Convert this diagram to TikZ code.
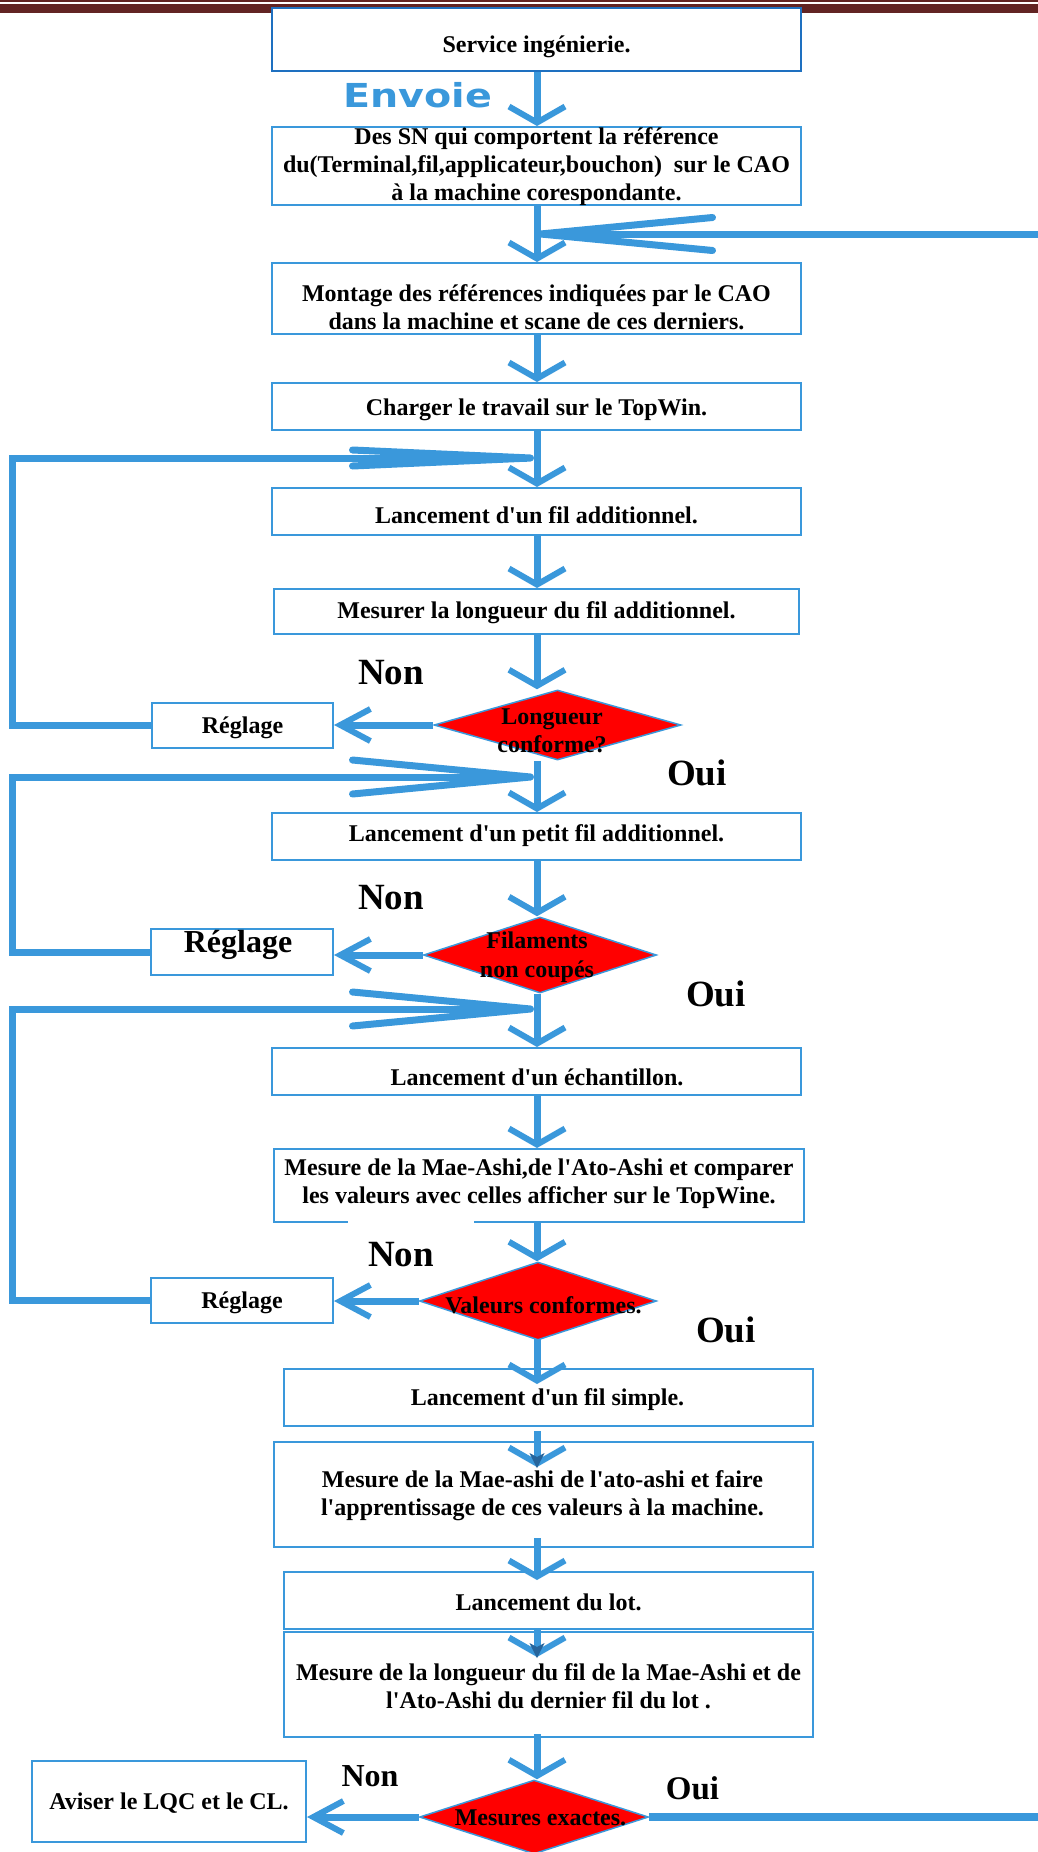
\documentclass[tikz,border=0pt]{standalone}
\usepackage{fontspec}
\newfontfamily\tnr{Liberation Serif}
\newfontfamily\dvs{DejaVu Sans}
\usetikzlibrary{arrows.meta,shapes.geometric}
\definecolor{fblue}{RGB}{58,152,219}
\definecolor{dblue}{RGB}{30,112,192}
\definecolor{maroonbar}{RGB}{98,36,35}
\definecolor{tipblue}{RGB}{38,100,155}
\begin{document}
\begin{tikzpicture}[x=1pt,y=-1pt,
  box/.style={rectangle, draw=fblue, line width=2pt, fill=white, inner sep=0pt},
  dia/.style={diamond, draw=fblue, line width=1.5pt, fill=red, inner sep=0pt},
  txt/.style={font=\tnr\bfseries\fontsize{24}{27.7}\selectfont, align=center, inner sep=0pt},
  bigtxt/.style={font=\tnr\bfseries\fontsize{37}{40}\selectfont, inner sep=0pt},
  flow/.style={draw=fblue, line width=7pt, -{Straight Barb[length=16pt,width=56pt,line width=6pt]}},
  side/.style={draw=fblue, line width=7pt, -{Straight Barb[length=30pt,width=32pt,line width=6pt]}},
  loopa/.style={draw=fblue, line width=7pt, line join=miter, -{Straight Barb[round,length=178pt,width=16pt,line width=7pt]}},
  loopb/.style={draw=fblue, line width=7pt, line join=miter, -{Straight Barb[round,length=178pt,width=34pt,line width=7pt]}},
]
\useasboundingbox (0,0) rectangle (1038,1852);
\fill[white] (0,0) rectangle (1038,1852);
% header bar
\fill[maroonbar] (0,0) rectangle (1038,2);
\fill[maroonbar] (0,4.3) rectangle (1038,12.7);

% axis of the main flow
\coordinate (ax) at (537,0);

% boxes
\node[box, draw=dblue, line width=2.5pt, minimum width=529pt, minimum height=63pt] (b1) at (536.5,39.5) {};
\node[box, minimum width=529pt, minimum height=78pt] (b2) at (536.5,166) {};
\node[box, minimum width=529pt, minimum height=71pt] (b3) at (536.5,298.5) {};
\node[box, minimum width=529pt, minimum height=47pt] (b4) at (536.5,406.5) {};
\node[box, minimum width=529pt, minimum height=47pt] (b5) at (536.5,511.5) {};
\node[box, minimum width=525pt, minimum height=45pt] (b6) at (536.5,611.5) {};
\node[dia, minimum width=247pt, minimum height=70pt] (d1) at (557.5,725) {};
\node[box, minimum width=181pt, minimum height=45pt] (r1) at (242.5,725.5) {};
\node[box, minimum width=529pt, minimum height=47pt] (b7) at (536.5,836.5) {};
\node[dia, minimum width=233pt, minimum height=76pt] (d2) at (540,955) {};
\node[box, minimum width=182pt, minimum height=46pt] (r2) at (242,952) {};
\node[box, minimum width=529pt, minimum height=47pt] (b8) at (536.5,1071.5) {};
\node[box, minimum width=530pt, minimum height=73pt] (b9) at (539,1185.5) {};
\fill[white] (348,1220) rectangle (474,1225);
\node[dia, minimum width=237pt, minimum height=78pt] (d3) at (538,1301) {};
\node[box, minimum width=182pt, minimum height=45pt] (r3) at (242,1300.5) {};
\node[box, minimum width=529pt, minimum height=57pt] (b10) at (548.5,1397.5) {};
\node[box, minimum width=539pt, minimum height=105pt] (b11) at (543.5,1494.5) {};
\node[box, minimum width=529pt, minimum height=57pt] (b12) at (548.5,1600.5) {};
\node[box, minimum width=529pt, minimum height=105pt] (b13) at (548.5,1684.5) {};
\node[dia, minimum width=229pt, minimum height=74pt] (d4) at (534,1817) {};
\node[box, minimum width=274pt, minimum height=81pt] (b14) at (169,1801.5) {};

% merge points and free ends
\coordinate (m0) at (537,234);
\coordinate (m1) at (534,458);
\coordinate (m2) at (534,777);
\coordinate (m3) at (534,1009);
\coordinate (k1) at (12,458);
\coordinate (k2) at (12,777);
\coordinate (k3) at (12,1009);
\coordinate (e1) at (1038,234);
\coordinate (e2) at (1038,1817);

% connectors
\draw[flow] (ax |- b1.south) -- (ax |- b2.north);
\draw[flow] (ax |- b2.south) -- (ax |- b3.north);
\draw[draw=fblue, line width=7pt, -{Straight Barb[round,length=172pt,width=33pt,line width=7pt]}] (e1) -- (m0);
\draw[flow] (ax |- b3.south) -- (ax |- b4.north);
\draw[flow] (ax |- b4.south) -- (ax |- b5.north);
\draw[flow] (ax |- b5.south) -- (ax |- b6.north);
\draw[flow] (ax |- b6.south) -- (ax |- d1.north);
\draw[side] (d1.west) -- (d1.west -| r1.east);
\draw[loopa] (r1.west) -| (k1) -- (m1);
\draw[flow] (ax |- d1.south) -- (ax |- b7.north);
\draw[loopb] (r2.west) -| (k2) -- (m2);
\draw[flow] (ax |- b7.south) -- (ax |- d2.north);
\draw[side] (d2.west) -- (d2.west -| r2.east);
\draw[flow] (ax |- d2.south) -- (ax |- b8.north);
\draw[loopb] (r3.west) -| (k3) -- (m3);
\draw[flow] (ax |- b8.south) -- (ax |- b9.north);
\draw[flow] (ax |- b9.south) -- (ax |- d3.north);
\draw[side] (d3.west) -- (d3.west -| r3.east);
\draw[flow, shorten <=-2pt, shorten >=-16pt] (ax |- d3.south) -- (ax |- b10.north);
\draw[flow, shorten <=4pt, shorten >=-26pt] (ax |- b10.south) -- (ax |- b11.north);
\draw[flow, shorten <=-10pt, shorten >=-9pt] (ax |- b11.south) -- (ax |- b12.north);
\draw[flow, shorten <=-2pt, shorten >=-26pt] (ax |- b12.south) -- (ax |- b13.north);
\draw[flow, shorten <=-4pt] (ax |- b13.south) -- (ax |- d4.north);
\draw[side] (d4.west) -- (d4.west -| b14.east);
\draw[draw=fblue, line width=8pt] (d4.east) -- (e2);

% small dark tips
\coordinate (p11) at (537,1468);
\coordinate (p13) at (537,1658);
\fill[tipblue] (p11) -- ++(-7.5,-15) -- ++(7.5,4) -- ++(7.5,-4) -- cycle;
\fill[tipblue] (p13) -- ++(-7.5,-15) -- ++(7.5,4) -- ++(7.5,-4) -- cycle;

% texts
\node[font=\dvs\bfseries\fontsize{33}{36}\selectfont, text=fblue, inner sep=0pt] (env) at (418,95) {\scalebox{1.2}[1]{Envoie}};
\node[txt] (t1) at (536.5,47) {Service ingénierie.};
\node[txt] (t2) at (536.5,166.5) {Des SN qui comportent la référence\\du(Terminal,fil,applicateur,bouchon)~ sur le CAO\\à la machine corespondante.};
\node[txt] (t3) at (536.5,307.5) {Montage des références indiquées par le CAO\\dans la machine et scane de ces derniers.};
\node[txt] (t4) at (536.5,410) {Charger le travail sur le TopWin.};
\node[txt] (t5) at (536.5,515) {Lancement d'un fil additionnel.};
\node[txt] (t6) at (536.5,613) {Mesurer la longueur du fil additionnel.};
\node[txt, font=\tnr\bfseries\fontsize{24}{28}\selectfont] (td1) at (552,731) {Longueur\\conforme?};
\node[txt] (tr1) at (242.5,728) {Réglage};
\node[bigtxt] (tn1) at (391,672.5) {Non};
\node[bigtxt] (to1) at (697,772.5) {Oui};
\node[txt] (t7) at (536.5,836) {Lancement d'un petit fil additionnel.};
\node[txt, font=\tnr\bfseries\fontsize{24}{29}\selectfont] (td2) at (537,957.5) {Filaments\\non coupés};
\node[txt, font=\tnr\bfseries\fontsize{32}{36}\selectfont] (tr2) at (238,945) {Réglage};
\node[bigtxt] (tn2) at (391,897.5) {Non};
\node[bigtxt] (to2) at (716,993.5) {Oui};
\node[txt] (t8) at (537,1077) {Lancement d'un échantillon.};
\node[txt] (t9) at (539,1184) {Mesure de la Mae-Ashi,de l'Ato-Ashi et comparer\\les valeurs avec celles afficher sur le TopWine.};
\node[txt] (td3) at (543.5,1305) {Valeurs conformes.};
\node[txt] (tr3) at (242,1303) {Réglage};
\node[bigtxt] (tn3) at (401,1254.5) {Non};
\node[bigtxt] (to3) at (726,1329.5) {Oui};
\node[txt] (t10) at (547.5,1400) {Lancement d'un fil simple.};
\node[txt] (t11) at (542.5,1496) {Mesure de la Mae-ashi de l'ato-ashi et faire\\l'apprentissage de ces valeurs à la machine.};
\node[txt] (t12) at (548.5,1602) {Lancement du lot.};
\node[txt] (t13) at (548.5,1686) {Mesure de la longueur du fil de la Mae-Ashi et de\\l'Ato-Ashi du dernier fil du lot .};
\node[txt] (td4) at (540.5,1818) {Mesures exactes.};
\node[txt] (t14) at (169,1803) {Aviser le LQC et le CL.};
\node[bigtxt, font=\tnr\bfseries\fontsize{32}{36}\selectfont] (tn4) at (370,1776) {Non};
\node[bigtxt, font=\tnr\bfseries\fontsize{33}{36}\selectfont] (to4) at (692.5,1788) {Oui};
\end{tikzpicture}
\end{document}
